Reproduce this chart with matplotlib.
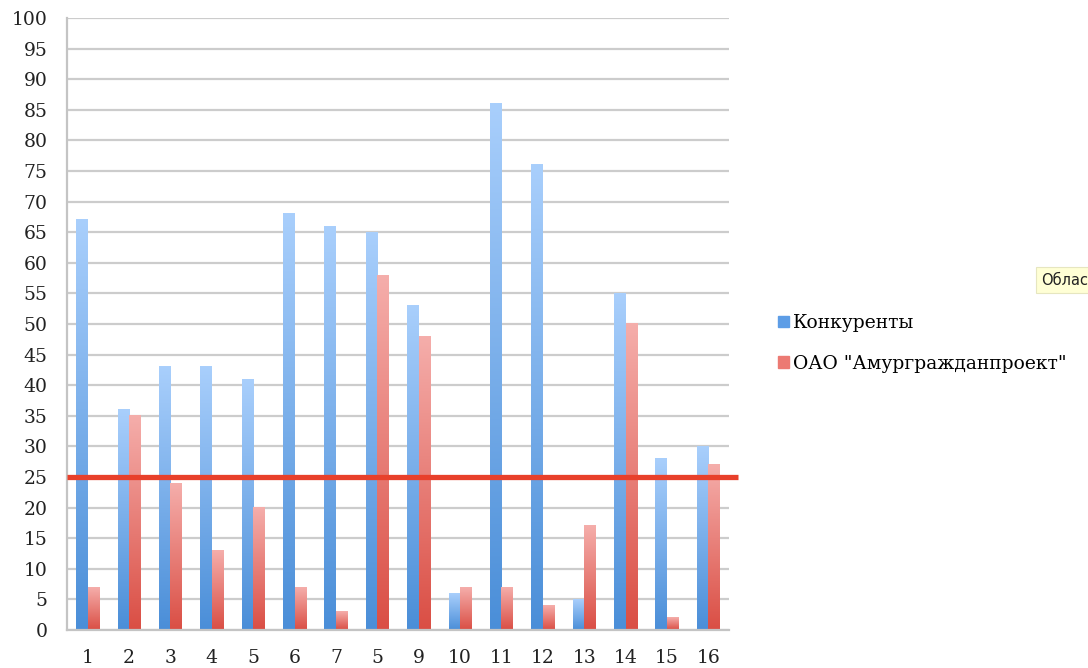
import numpy as np
import matplotlib.pyplot as plt
from matplotlib.colors import LinearSegmentedColormap
from matplotlib.patches import Patch

plt.rcParams['font.family'] = ['DejaVu Serif']

labels = ['1', '2', '3', '4', '5', '6', '7', '5', '9', '10', '11', '12', '13', '14', '15', '16']
konkurenty = [67, 36, 43, 43, 41, 68, 66, 65, 53, 6, 86, 76, 5, 55, 28, 30]
amur = [7, 35, 24, 13, 20, 7, 3, 58, 48, 7, 7, 4, 17, 50, 2, 27]
threshold = 25

fig = plt.figure(figsize=(10.88, 6.68), dpi=100)
ax = fig.add_axes([0.0616, 0.0569, 0.6085, 0.9162])

x = np.arange(1, len(labels) + 1)
w = 0.28

blue_cm = LinearSegmentedColormap.from_list('b', ['#4a8ed8', '#a9cffc'])
red_cm = LinearSegmentedColormap.from_list('r', ['#da4e44', '#f5aeab'])
grad = np.linspace(0, 1, 256).reshape(-1, 1)

b1 = ax.bar(x - w / 2, konkurenty, w, color='none', zorder=2)
b2 = ax.bar(x + w / 2, amur, w, color='none', zorder=2)
for bars, cm in [(b1, blue_cm), (b2, red_cm)]:
    for r in bars:
        x0, h = r.get_x(), r.get_height()
        ax.imshow(grad, extent=(x0, x0 + r.get_width(), 0, h), cmap=cm,
                  aspect='auto', origin='lower', zorder=2, interpolation='bilinear')

# порог
ax.plot([0.5, 16.72], [threshold, threshold], color='#e8402b', lw=3.8,
        zorder=4, clip_on=False, solid_capstyle='butt')

ax.set_xlim(0.5, 16.5)
ax.set_ylim(0, 100)
ax.set_yticks(np.arange(0, 101, 5))
ax.set_xticks(x)
ax.set_xticklabels(labels)
ax.yaxis.grid(True, color='#cccccc', lw=1.6)
ax.set_axisbelow(True)
for s in ['top', 'right']:
    ax.spines[s].set_visible(False)
for s in ['left', 'bottom']:
    ax.spines[s].set_color('#c4c4c4')
    ax.spines[s].set_linewidth(1.6)
ax.tick_params(length=0, labelsize=13.5, colors='#222222')
ax.tick_params(axis='x', pad=14)
ax.tick_params(axis='y', pad=14)

handles = [Patch(color='#5d9de6'), Patch(color='#ec7a73')]
fig.legend(handles, ['Конкуренты', 'ОАО "Амургражданпроект"'],
           loc='upper left', bbox_to_anchor=(0.7, 0.555), frameon=False,
           fontsize=13.5, handlelength=0.55, handleheight=0.55,
           handletextpad=0.2, labelspacing=1.2)

fig.text(0.957, 0.574, 'Облас', fontsize=10.5, family='DejaVu Sans', color='#222222',
         bbox=dict(boxstyle='square,pad=0.35', fc='#ffffd5', ec='#e6e6c0', lw=0.8))

fig.savefig('out.png', dpi=100)
